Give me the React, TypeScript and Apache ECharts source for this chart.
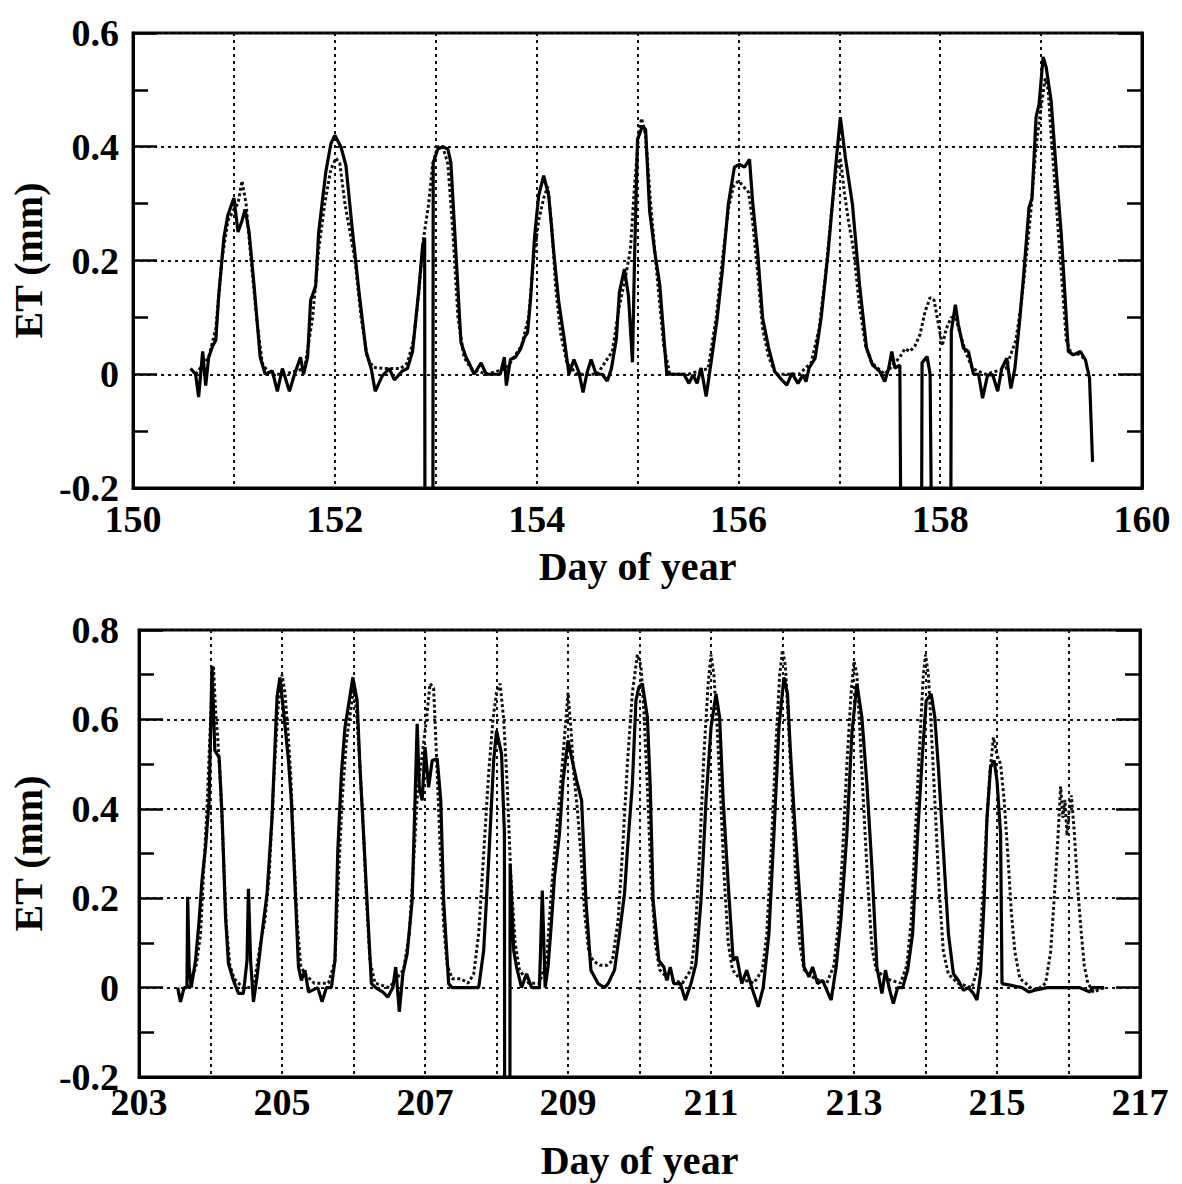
import React, { useEffect, useRef } from "react";
import * as echarts from "echarts";

// ---- Top panel (days 150-160) ----
const topXTicks = [150, 152, 154, 156, 158, 160];
const topYTicks = [-0.2, 0, 0.2, 0.4, 0.6];
const topMeasured: [number, number][] = [
  [150.57, 0.01], [150.62, 0.0], [150.65, -0.04], [150.69, 0.04], [150.72, -0.02], [150.75, 0.03], [150.79, 0.05],
  [150.82, 0.06], [150.85, 0.14], [150.9, 0.24], [150.94, 0.28], [150.98, 0.3], [151.0, 0.31], [151.02, 0.28],
  [151.04, 0.25], [151.08, 0.27], [151.11, 0.29], [151.15, 0.25], [151.2, 0.155], [151.26, 0.03], [151.31, 0.0],
  [151.38, 0.006], [151.43, -0.03], [151.48, 0.01], [151.55, -0.03], [151.6, 0.0], [151.66, 0.03], [151.69, 0.0],
  [151.73, 0.03], [151.76, 0.13], [151.81, 0.155], [151.84, 0.25], [151.91, 0.355], [151.96, 0.405], [152.0, 0.42],
  [152.06, 0.4], [152.11, 0.367], [152.17, 0.26], [152.24, 0.144], [152.31, 0.04], [152.36, 0.01], [152.4, -0.03],
  [152.47, -0.003], [152.54, 0.01], [152.59, -0.01], [152.67, 0.006], [152.72, 0.01], [152.77, 0.04], [152.83, 0.144],
  [152.87, 0.226], [152.89, 0.24], [152.895, -0.6], [152.97, -0.6], [152.975, 0.372], [153.02, 0.396], [153.07, 0.4],
  [153.12, 0.396], [153.15, 0.372], [153.2, 0.214], [153.25, 0.056], [153.3, 0.03], [153.33, 0.02], [153.38, 0.0],
  [153.45, 0.02], [153.5, 0.0], [153.64, 0.0], [153.68, 0.03], [153.7, -0.02], [153.74, 0.026], [153.79, 0.03],
  [153.84, 0.044], [153.88, 0.065], [153.91, 0.073], [153.94, 0.132], [153.98, 0.243], [154.02, 0.314], [154.07, 0.349],
  [154.12, 0.314], [154.17, 0.214], [154.22, 0.126], [154.27, 0.067], [154.32, 0.0], [154.37, 0.026], [154.42, 0.003],
  [154.46, -0.032], [154.5, 0.003], [154.54, 0.026], [154.59, 0.0], [154.65, 0.0], [154.7, -0.012], [154.74, 0.009],
  [154.79, 0.062], [154.82, 0.144], [154.87, 0.185], [154.91, 0.138], [154.95, 0.021], [154.97, 0.2], [155.0, 0.413],
  [155.05, 0.437], [155.08, 0.43], [155.12, 0.287], [155.17, 0.216], [155.22, 0.158], [155.29, 0.0], [155.46, 0.0],
  [155.51, -0.016], [155.55, -0.001], [155.59, -0.016], [155.63, 0.011], [155.68, -0.039], [155.73, 0.022],
  [155.79, 0.099], [155.84, 0.181], [155.9, 0.299], [155.96, 0.364], [156.01, 0.369], [156.06, 0.364], [156.11, 0.378],
  [156.14, 0.305], [156.19, 0.216], [156.24, 0.099], [156.3, 0.046], [156.36, 0.005], [156.43, -0.01], [156.48, -0.019],
  [156.53, 0.002], [156.59, -0.016], [156.64, -0.001], [156.67, -0.013], [156.7, 0.011], [156.76, 0.028], [156.82, 0.099],
  [156.89, 0.216], [156.96, 0.358], [157.01, 0.452], [157.06, 0.381], [157.13, 0.299], [157.2, 0.158], [157.27, 0.046],
  [157.33, 0.016], [157.4, 0.005], [157.45, -0.013], [157.49, 0.011], [157.52, 0.04], [157.55, 0.011], [157.6, 0.016],
  [157.62, -0.6], [157.81, -0.6], [157.82, 0.02], [157.87, 0.031], [157.9, 0.0], [157.93, -0.6], [158.1, -0.6],
  [158.11, 0.075], [158.15, 0.122], [158.18, 0.087], [158.23, 0.046], [158.28, 0.04], [158.33, 0.0], [158.38, 0.0],
  [158.42, -0.042], [158.47, -0.001], [158.52, -0.001], [158.57, -0.03], [158.61, 0.01], [158.66, 0.028], [158.7, -0.025],
  [158.74, 0.01], [158.79, 0.099], [158.83, 0.181], [158.88, 0.293], [158.91, 0.31], [158.95, 0.452], [158.98, 0.475],
  [159.02, 0.558], [159.05, 0.54], [159.1, 0.48], [159.15, 0.358], [159.2, 0.246], [159.27, 0.04], [159.32, 0.034],
  [159.39, 0.04], [159.44, 0.025], [159.48, -0.007], [159.51, -0.154],
];
const topModeled: [number, number][] = [
  [150.62, 0.0], [150.75, 0.03], [150.82, 0.08], [150.88, 0.2], [150.94, 0.27], [151.0, 0.29], [151.04, 0.3],
  [151.08, 0.34], [151.12, 0.3], [151.17, 0.2], [151.23, 0.09], [151.28, 0.02], [151.35, 0.0], [151.5, 0.0],
  [151.7, 0.01], [151.78, 0.1], [151.84, 0.22], [151.9, 0.3], [151.96, 0.36], [152.01, 0.38], [152.05, 0.37],
  [152.1, 0.3], [152.14, 0.26], [152.2, 0.2], [152.26, 0.1], [152.32, 0.03], [152.38, 0.012], [152.5, 0.01],
  [152.65, 0.01], [152.72, 0.02], [152.78, 0.06], [152.83, 0.14], [152.88, 0.24], [152.93, 0.3], [152.97, 0.37],
  [153.02, 0.4], [153.07, 0.4], [153.12, 0.37], [153.17, 0.25], [153.22, 0.1], [153.28, 0.03], [153.35, 0.01],
  [153.5, 0.0], [153.7, 0.01], [153.85, 0.05], [153.92, 0.1], [153.97, 0.2], [154.02, 0.27], [154.07, 0.31],
  [154.11, 0.33], [154.15, 0.26], [154.19, 0.15], [154.24, 0.07], [154.3, 0.02], [154.4, 0.0], [154.6, 0.0],
  [154.75, 0.04], [154.82, 0.12], [154.88, 0.17], [154.93, 0.22], [154.97, 0.33], [155.01, 0.42], [155.04, 0.45],
  [155.08, 0.42], [155.13, 0.3], [155.2, 0.16], [155.26, 0.05], [155.32, 0.0], [155.5, 0.0], [155.7, 0.01],
  [155.78, 0.1], [155.84, 0.2], [155.9, 0.29], [155.95, 0.33], [156.0, 0.34], [156.05, 0.33], [156.1, 0.32],
  [156.14, 0.27], [156.19, 0.18], [156.24, 0.08], [156.3, 0.03], [156.37, 0.0], [156.6, 0.0], [156.72, 0.02],
  [156.8, 0.08], [156.86, 0.17], [156.92, 0.28], [156.97, 0.36], [157.01, 0.38], [157.05, 0.32], [157.09, 0.27],
  [157.14, 0.22], [157.2, 0.12], [157.26, 0.05], [157.32, 0.02], [157.45, 0.0], [157.55, 0.02], [157.6, 0.03],
  [157.65, 0.045], [157.7, 0.04], [157.75, 0.05], [157.8, 0.07], [157.85, 0.11], [157.9, 0.135], [157.94, 0.13],
  [157.98, 0.09], [158.02, 0.05], [158.06, 0.08], [158.11, 0.1], [158.15, 0.1], [158.2, 0.07], [158.25, 0.04],
  [158.32, 0.01], [158.45, 0.0], [158.65, 0.01], [158.75, 0.06], [158.8, 0.12], [158.85, 0.2], [158.9, 0.29],
  [158.95, 0.4], [159.0, 0.47], [159.04, 0.52], [159.07, 0.5], [159.1, 0.42], [159.15, 0.3], [159.2, 0.18],
  [159.25, 0.06], [159.3, 0.035], [159.38, 0.035], [159.44, 0.025],
];

// ---- Bottom panel (days 203-217) ----
const botXTicks = [203, 205, 207, 209, 211, 213, 215, 217];
const botYTicks = [-0.2, 0, 0.2, 0.4, 0.6, 0.8];
const botMeasured: [number, number][] = [
  [203.54, 0.0], [203.58, -0.032], [203.63, 0.0], [203.67, 0.0], [203.68, 0.203], [203.7, 0.046], [203.73, 0.0],
  [203.79, 0.061], [203.84, 0.15], [203.88, 0.24], [203.93, 0.314], [203.98, 0.419], [204.02, 0.72], [204.06, 0.53],
  [204.12, 0.515], [204.16, 0.389], [204.21, 0.158], [204.25, 0.054], [204.32, 0.016], [204.39, -0.013],
  [204.46, -0.013], [204.51, 0.061], [204.53, 0.221], [204.56, 0.061], [204.6, -0.032], [204.65, 0.024],
  [204.72, 0.121], [204.79, 0.21], [204.86, 0.381], [204.93, 0.65], [204.97, 0.694], [205.02, 0.62], [205.09, 0.508],
  [205.13, 0.419], [205.18, 0.232], [205.23, 0.046], [205.27, 0.016], [205.32, 0.039], [205.37, -0.01], [205.5, 0.0],
  [205.56, -0.032], [205.62, 0.0], [205.69, 0.0], [205.74, 0.061], [205.78, 0.307], [205.83, 0.478], [205.88, 0.582],
  [205.94, 0.642], [205.99, 0.694], [206.05, 0.642], [206.09, 0.493], [206.14, 0.344], [206.2, 0.158], [206.25, 0.009],
  [206.31, 0.0], [206.41, -0.01], [206.48, -0.021], [206.55, 0.0], [206.59, 0.046], [206.64, -0.054], [206.69, 0.031],
  [206.75, 0.076], [206.82, 0.195], [206.89, 0.59], [206.92, 0.448], [206.96, 0.419], [207.0, 0.538], [207.05, 0.448],
  [207.1, 0.508], [207.17, 0.512], [207.22, 0.419], [207.26, 0.195], [207.33, 0.009], [207.38, 0.0], [207.75, 0.0],
  [207.82, 0.083], [207.89, 0.285], [207.96, 0.508], [208.0, 0.575], [208.07, 0.523], [208.11, 0.344], [208.115, -0.6],
  [208.185, -0.6], [208.19, 0.277], [208.24, 0.083], [208.28, 0.046], [208.35, 0.0], [208.42, 0.031], [208.49, 0.0],
  [208.6, 0.0], [208.64, 0.217], [208.68, 0.0], [208.72, 0.046], [208.77, 0.15], [208.81, 0.247], [208.88, 0.344],
  [208.93, 0.463], [209.0, 0.553], [209.05, 0.515], [209.12, 0.463], [209.19, 0.419], [209.21, 0.344], [209.25, 0.195],
  [209.32, 0.039], [209.42, 0.009], [209.51, 0.0], [209.56, 0.009], [209.65, 0.039], [209.72, 0.121], [209.79, 0.21],
  [209.83, 0.307], [209.9, 0.456], [209.95, 0.642], [209.99, 0.672], [210.04, 0.68], [210.11, 0.605], [210.15, 0.448],
  [210.19, 0.195], [210.27, 0.061], [210.34, 0.046], [210.38, 0.016], [210.43, 0.046], [210.48, 0.009], [210.57, 0.009],
  [210.64, -0.028], [210.72, 0.009], [210.79, 0.054], [210.86, 0.195], [210.93, 0.419], [211.0, 0.582], [211.07, 0.657],
  [211.12, 0.605], [211.17, 0.419], [211.24, 0.232], [211.31, 0.061], [211.36, 0.069], [211.43, 0.009], [211.5, 0.039],
  [211.57, 0.0], [211.66, -0.043], [211.73, 0.0], [211.81, 0.121], [211.88, 0.344], [211.95, 0.582], [212.02, 0.694],
  [212.07, 0.657], [212.11, 0.53], [212.18, 0.344], [212.26, 0.158], [212.3, 0.046], [212.37, 0.024], [212.42, 0.046],
  [212.49, 0.009], [212.56, 0.016], [212.68, -0.028], [212.75, 0.046], [212.82, 0.158], [212.9, 0.344], [212.97, 0.567],
  [213.04, 0.68], [213.11, 0.605], [213.18, 0.456], [213.25, 0.27], [213.32, 0.046], [213.39, -0.013], [213.44, 0.039],
  [213.49, 0.0], [213.55, -0.036], [213.61, 0.0], [213.68, 0.0], [213.75, 0.039], [213.82, 0.121], [213.89, 0.344],
  [213.96, 0.53], [214.01, 0.642], [214.08, 0.657], [214.13, 0.605], [214.18, 0.493], [214.25, 0.307], [214.32, 0.121],
  [214.39, 0.031], [214.46, 0.016], [214.53, -0.006], [214.6, 0.0], [214.67, -0.013], [214.72, -0.028], [214.77, 0.031],
  [214.82, 0.195], [214.86, 0.381], [214.91, 0.493], [214.96, 0.508], [215.0, 0.463], [215.05, 0.344], [215.07, 0.009],
  [215.2, 0.005], [215.35, 0.0], [215.45, -0.01], [215.55, -0.005], [215.7, 0.0], [215.85, 0.0], [216.0, 0.0],
  [216.15, 0.0], [216.3, -0.01], [216.33, 0.0], [216.5, 0.0],
];
const botModeled: [number, number][] = [
  [203.7, 0.0], [203.8, 0.05], [203.86, 0.12], [203.9, 0.25], [203.95, 0.4], [204.0, 0.6], [204.04, 0.72],
  [204.07, 0.62], [204.1, 0.56], [204.14, 0.45], [204.18, 0.3], [204.22, 0.14], [204.27, 0.05], [204.33, 0.02],
  [204.45, 0.0], [204.6, 0.0], [204.7, 0.1], [204.76, 0.15], [204.82, 0.25], [204.88, 0.45], [204.94, 0.62],
  [205.0, 0.7], [205.04, 0.66], [205.08, 0.58], [205.12, 0.48], [205.16, 0.32], [205.21, 0.15], [205.26, 0.05],
  [205.32, 0.03], [205.45, 0.01], [205.65, 0.01], [205.74, 0.06], [205.79, 0.25], [205.84, 0.42], [205.9, 0.55],
  [205.96, 0.62], [206.0, 0.67], [206.04, 0.62], [206.08, 0.52], [206.13, 0.38], [206.18, 0.2], [206.23, 0.06],
  [206.3, 0.01], [206.5, 0.0], [206.7, 0.04], [206.78, 0.12], [206.84, 0.28], [206.9, 0.45], [206.96, 0.52],
  [207.02, 0.6], [207.07, 0.68], [207.12, 0.67], [207.16, 0.52], [207.21, 0.32], [207.26, 0.14], [207.31, 0.05],
  [207.38, 0.02], [207.5, 0.02], [207.6, 0.01], [207.68, 0.03], [207.75, 0.12], [207.82, 0.3], [207.89, 0.48],
  [207.95, 0.6], [208.0, 0.66], [208.05, 0.68], [208.1, 0.6], [208.15, 0.45], [208.2, 0.25], [208.26, 0.1],
  [208.32, 0.04], [208.45, 0.01], [208.6, 0.01], [208.7, 0.06], [208.76, 0.2], [208.82, 0.32], [208.88, 0.42],
  [208.93, 0.52], [208.97, 0.6], [209.0, 0.66], [209.04, 0.58], [209.08, 0.48], [209.13, 0.4], [209.18, 0.3],
  [209.23, 0.17], [209.29, 0.08], [209.35, 0.06], [209.45, 0.05], [209.55, 0.05], [209.62, 0.06], [209.7, 0.15],
  [209.76, 0.3], [209.83, 0.5], [209.9, 0.66], [209.97, 0.745], [210.02, 0.72], [210.06, 0.62], [210.11, 0.45],
  [210.16, 0.25], [210.22, 0.1], [210.28, 0.04], [210.4, 0.02], [210.6, 0.01], [210.72, 0.04], [210.78, 0.12],
  [210.84, 0.3], [210.9, 0.52], [210.96, 0.68], [211.0, 0.745], [211.04, 0.7], [211.08, 0.6], [211.13, 0.44],
  [211.18, 0.26], [211.24, 0.1], [211.3, 0.04], [211.4, 0.02], [211.6, 0.01], [211.72, 0.04], [211.78, 0.12],
  [211.84, 0.3], [211.9, 0.52], [211.96, 0.7], [212.0, 0.755], [212.04, 0.72], [212.08, 0.6], [212.13, 0.44],
  [212.18, 0.26], [212.24, 0.1], [212.3, 0.04], [212.45, 0.02], [212.62, 0.01], [212.72, 0.05], [212.78, 0.14],
  [212.84, 0.3], [212.9, 0.5], [212.96, 0.66], [213.0, 0.73], [213.04, 0.7], [213.08, 0.58], [213.13, 0.42],
  [213.19, 0.24], [213.25, 0.09], [213.31, 0.04], [213.45, 0.02], [213.65, 0.01], [213.74, 0.05], [213.8, 0.15],
  [213.86, 0.35], [213.92, 0.55], [213.97, 0.7], [214.0, 0.745], [214.04, 0.7], [214.08, 0.58], [214.13, 0.42],
  [214.19, 0.22], [214.25, 0.08], [214.32, 0.03], [214.45, 0.01], [214.65, 0.0], [214.74, 0.05], [214.8, 0.2],
  [214.85, 0.35], [214.9, 0.48], [214.95, 0.56], [215.0, 0.52], [215.05, 0.5], [215.1, 0.42], [215.15, 0.3],
  [215.2, 0.17], [215.25, 0.08], [215.32, 0.02], [215.4, 0.01], [215.5, -0.005], [215.6, 0.0], [215.68, 0.01],
  [215.75, 0.08], [215.8, 0.2], [215.85, 0.33], [215.89, 0.45], [215.92, 0.38], [215.95, 0.42], [215.98, 0.34],
  [216.01, 0.4], [216.04, 0.43], [216.08, 0.35], [216.13, 0.22], [216.18, 0.12], [216.22, 0.05], [216.27, 0.01],
  [216.35, -0.01], [216.5, 0.0],
];

const FONT = "Liberation Serif";
const tickStyle = { fontFamily: FONT, fontWeight: "bold" as const, fontSize: 38, color: "#000" };
const nameStyle = { fontFamily: FONT, fontWeight: "bold" as const, fontSize: 40, color: "#000" };
const gridLine = { show: true, lineStyle: { color: "#111", width: 2, type: [3, 4] } };

const fmtY = (v: number) => (Math.abs(v) < 1e-9 ? "0" : v.toFixed(1));

function makeX(grid: number, min: number, max: number, labels: number[], nameGap: number, margin: number) {
  return {
    gridIndex: grid,
    type: "value",
    min,
    max,
    interval: 1,
    axisLine: { show: true, onZero: false, lineStyle: { color: "#000", width: 3 } },
    axisTick: { show: false },
    axisLabel: {
      ...tickStyle,
      margin,
      formatter: (v: number) => (labels.some((l) => Math.abs(l - v) < 1e-6) ? String(Math.round(v)) : ""),
    },
    splitLine: gridLine,
    name: "Day of year",
    nameLocation: "middle",
    nameGap,
    nameTextStyle: nameStyle,
  };
}

function makeY(grid: number, ticks: number[], nameGap: number, margin: number, right: boolean) {
  return {
    gridIndex: grid,
    type: "value",
    position: right ? "right" : "left",
    min: ticks[0],
    max: ticks[ticks.length - 1],
    interval: 0.2,
    axisLine: { show: true, onZero: false, lineStyle: { color: "#000", width: 3 } },
    axisTick: { show: true, inside: true, length: 24, lineStyle: { color: "#000", width: 2.5 } },
    minorTick: { show: true, splitNumber: 2, length: 15, lineStyle: { color: "#000", width: 2.5 } },
    axisLabel: right ? { show: false } : { ...tickStyle, margin, formatter: fmtY },
    splitLine: right ? { show: false } : gridLine,
    name: right ? "" : "ET (mm)",
    nameLocation: "middle",
    nameGap,
    nameRotate: 90,
    nameTextStyle: nameStyle,
  };
}

function lineSeries(x: number, y: number, data: [number, number][], dashed: boolean) {
  return {
    type: "line",
    xAxisIndex: x,
    yAxisIndex: y,
    data,
    showSymbol: false,
    symbol: "none",
    clip: true,
    z: dashed ? 2 : 3,
    lineStyle: dashed
      ? { color: "#111", width: 3, type: [3, 2.5] }
      : { color: "#000", width: 3.2 },
  };
}

export default function App() {
  const ref = useRef<HTMLDivElement>(null);
  useEffect(() => {
    document.body.style.margin = "0";
    const chart = echarts.init(ref.current!, undefined, { renderer: "svg" });
    chart.setOption({
      animation: false,
      backgroundColor: "#fff",
      grid: [
        { left: 133, top: 33, width: 1009, height: 455, show: true, borderColor: "#000", borderWidth: 3 },
        { left: 137, top: 630, width: 1003, height: 447, show: true, borderColor: "#000", borderWidth: 3 },
      ],
      xAxis: [makeX(0, 150, 160, topXTicks, 58, 12), makeX(1, 203, 217, botXTicks, 63, 6)],
      yAxis: [
        makeY(0, topYTicks, 85, 14, false),
        makeY(0, topYTicks, 0, 0, true),
        makeY(1, botYTicks, 89, 20, false),
        makeY(1, botYTicks, 0, 0, true),
      ],
      series: [
        lineSeries(0, 0, topModeled, true),
        lineSeries(0, 0, topMeasured, false),
        lineSeries(1, 2, botModeled, true),
        lineSeries(1, 2, botMeasured, false),
      ],
    });
    return () => chart.dispose();
  }, []);
  return <div ref={ref} style={{ width: 1182, height: 1184 }} />;
}
